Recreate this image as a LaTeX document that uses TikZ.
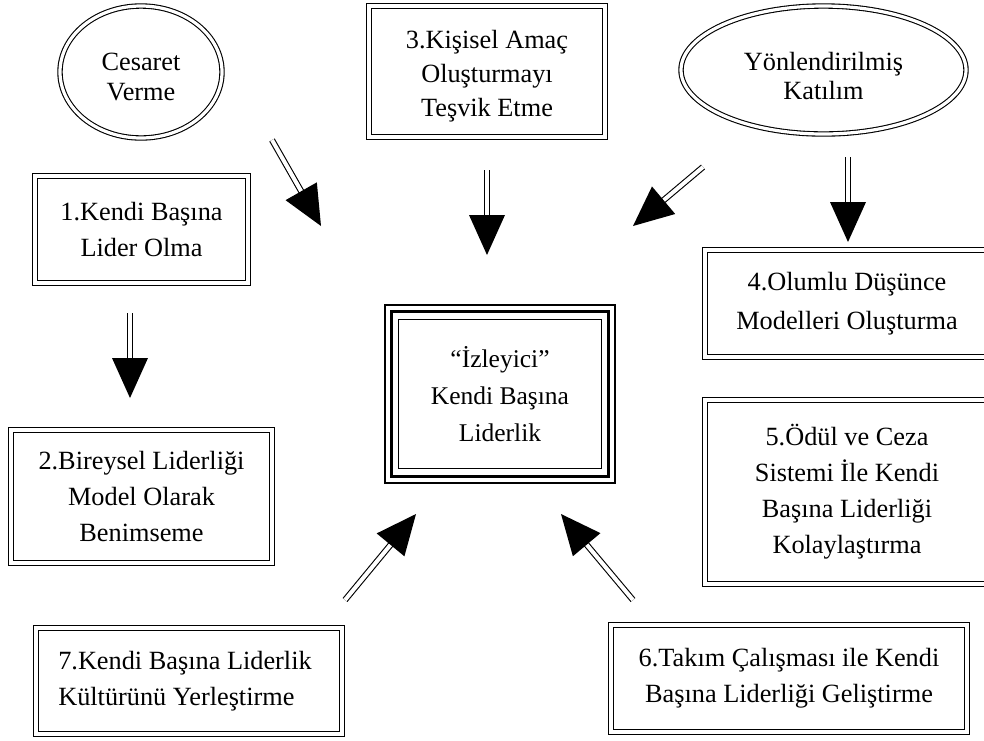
\documentclass[tikz,border=0pt]{standalone}
\usepackage{fontspec}
\setmainfont{Liberation Serif}
\usetikzlibrary{shapes.geometric,calc}
\tikzset{
  dbox/.style={draw=black, line width=1.1pt, double=white, double distance=3.2pt,
    rectangle, inner sep=0pt, align=center, font=\fontsize{26.3}{36}\selectfont},
  dell/.style={draw=black, line width=1.1pt, double=white, double distance=3.2pt,
    ellipse, inner sep=0pt},
  lbl/.style={inner sep=0pt, align=center},
  shaft/.style={draw=black, line width=1.1pt, double=white, double distance=4pt},
  head/.style={fill=black},
}
\newcommand\myarrow[2]{%
  \draw[shaft] (#1) -- ($(#2)!36pt!(#1)$);
  \coordinate (hb) at ($(#2)!40pt!(#1)$);
  \fill[head] (#2) -- ($(hb)!18pt!90:(#2)$) -- ($(hb)!18pt!-90:(#2)$) -- cycle;
}
\begin{document}
\begin{tikzpicture}[x=1pt,y=-1pt]
\useasboundingbox (0,0) rectangle (984,740);
\clip (0,0) rectangle (984,740);

% nodes
\node[dell, minimum width=162, minimum height=132,
  label={[lbl, font=\fontsize{26.3}{30}\selectfont, yshift=-5pt]center:{Cesaret\\Verme}}] (ces) at (141,72) {};
\node[dell, minimum width=285, minimum height=128,
  label={[lbl, font=\fontsize{26.3}{29}\selectfont, yshift=-6pt]center:{Yönlendirilmiş\\Katılım}}] (yon) at (823.5,70) {};
\node[dbox, minimum width=236, minimum height=131,
  label={[lbl, font=\fontsize{26.3}{34}\selectfont, yshift=-5pt]center:{3.Kişisel Amaç\\Oluşturmayı\\Teşvik Etme}}] (b3) at (487,71.5) {};
\node[dbox, minimum width=213, minimum height=107] (b1) at (141.5,229.5) {1.Kendi Başına\\Lider Olma};
\node[dbox, minimum width=261, minimum height=133] (b2) at (141.5,496.5) {2.Bireysel Liderliği\\Model Olarak\\Benimseme};
\node[dbox, minimum width=284, minimum height=107, font=\fontsize{26.3}{39}\selectfont] (b4) at (847,303.5) {4.Olumlu Düşünce\\Modelleri Oluşturma};
\node[dbox, minimum width=284, minimum height=184] (b5) at (847,492) {5.Ödül ve Ceza\\Sistemi İle Kendi\\Başına Liderliği\\Kolaylaştırma};
\node[dbox, minimum width=356, minimum height=107] (b6) at (789,678.5) {6.Takım Çalışması ile Kendi\\Başına Liderliği Geliştirme};
\node[dbox, minimum width=306, minimum height=106,
  label={[lbl, align=left, font=\fontsize{26.3}{36}\selectfont, xshift=-4pt]center:{7.Kendi Başına Liderlik\\Kültürünü Yerleştirme}}] (b7) at (189,681) {};

% center triple box
\node[draw=black, line width=1.5pt, rectangle, inner sep=0pt, align=center,
  font=\fontsize{25.5}{37}\selectfont, minimum width=230, minimum height=178] (c) at (500,394)
  {“İzleyici”\\Kendi Başına\\Liderlik};
\draw[line width=3pt] ($(c.north west)+(7,7)$) rectangle ($(c.south east)+(-7,-7)$);
\draw[line width=1.2pt] ($(c.north west)+(14,15)$) rectangle ($(c.south east)+(-14,-15)$);

% arrow coordinates
\coordinate (a1s) at (272,140); \coordinate (a1t) at (321,226);
\coordinate (a2s) at (487,170); \coordinate (a2t) at (487,255);
\coordinate (a3s) at (703,167); \coordinate (a3t) at (633,226);
\coordinate (a4s) at (848,157); \coordinate (a4t) at (848,242);
\coordinate (a5s) at (130,313); \coordinate (a5t) at (130,398);
\coordinate (a6s) at (345,600); \coordinate (a6t) at (416,514);
\coordinate (a7s) at (633,600); \coordinate (a7t) at (561,514);

\myarrow{a1s}{a1t}
\myarrow{a2s}{a2t}
\myarrow{a3s}{a3t}
\myarrow{a4s}{a4t}
\myarrow{a5s}{a5t}
\myarrow{a6s}{a6t}
\myarrow{a7s}{a7t}
\end{tikzpicture}
\end{document}
